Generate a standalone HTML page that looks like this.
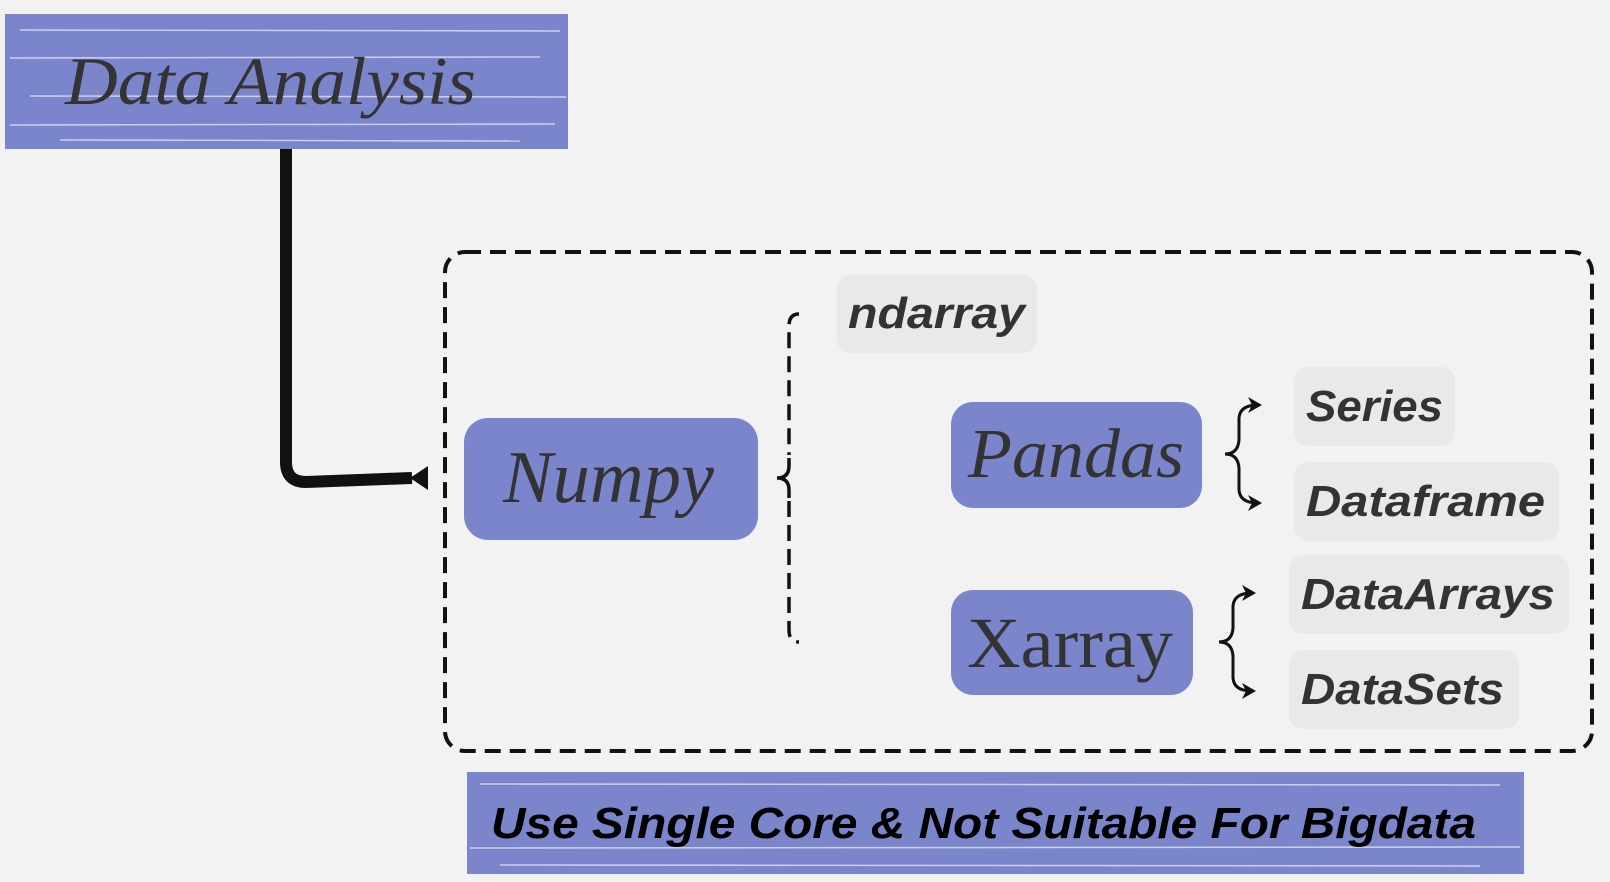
<!DOCTYPE html>
<html><head><meta charset="utf-8"><style>
html,body{margin:0;padding:0;background:#f2f2f2;}
svg{display:block}
.lab{font-family:"Liberation Sans",sans-serif;font-weight:bold;font-style:italic;fill:#333;font-size:44px}
.ser{font-family:"Liberation Serif",serif;fill:#333}
</style></head><body>
<svg width="1610" height="882" viewBox="0 0 1610 882" xmlns="http://www.w3.org/2000/svg">
<rect width="1610" height="882" fill="#f2f2f2"/>
<!-- Data Analysis banner -->
<rect x="5" y="14" width="563" height="135" fill="#7a85cb"/>
<g stroke="#f2f2f2" stroke-width="1.5" opacity="0.7">
<line x1="20" y1="30" x2="560" y2="31"/><line x1="10" y1="58" x2="540" y2="57"/><line x1="30" y1="96" x2="566" y2="97"/><line x1="10" y1="125" x2="555" y2="124"/><line x1="60" y1="140" x2="520" y2="141"/>
</g>
<text x="65" y="104" class="ser" font-style="italic" font-size="68" textLength="411" lengthAdjust="spacingAndGlyphs">Data Analysis</text>
<!-- connector -->
<path d="M286 149 L286 462 Q286 482 306 482 L412 478" stroke="#111" stroke-width="12" fill="none"/>
<polygon points="410,478 428,466 428,490" fill="#111"/>
<!-- dashed box -->
<rect x="445" y="252" width="1147" height="499" rx="20" fill="none" stroke="#111" stroke-width="4" stroke-dasharray="16,9"/>
<!-- Numpy -->
<rect x="464" y="418" width="294" height="122" rx="24" fill="#7a85cb"/>
<text x="503" y="502" class="ser" font-style="italic" font-size="74" textLength="211" lengthAdjust="spacingAndGlyphs">Numpy</text>
<!-- dashed brace -->
<path d="M799 314 Q789 314 789 326 L789 455" stroke="#111" stroke-width="3.5" fill="none" stroke-dasharray="16,8"/>
<path d="M789 501 L789 630 Q789 642 799 642" stroke="#111" stroke-width="3.5" fill="none" stroke-dasharray="16,8"/>
<path d="M789 458 L789 466 Q789 478 777 478 Q789 478 789 490 L789 498" stroke="#111" stroke-width="3.5" fill="none"/>
<!-- ndarray -->
<rect x="837" y="275" width="200" height="78" rx="14" fill="#e9e9e9"/>
<text x="848" y="328" class="lab" textLength="177" lengthAdjust="spacingAndGlyphs">ndarray</text>
<!-- Pandas -->
<rect x="951" y="402" width="251" height="106" rx="22" fill="#7a85cb"/>
<text x="968" y="477" class="ser" font-style="italic" font-size="70" textLength="216" lengthAdjust="spacingAndGlyphs">Pandas</text>
<path d="M1258 405 Q1240 405 1239 418 L1239 440 Q1238 454 1225 454 Q1238 454 1239 468 L1239 490 Q1240 503 1258 503" stroke="#111" stroke-width="3" fill="none"/>
<polygon points="1262,405 1248,397 1252,405 1248,413" fill="#111"/>
<polygon points="1262,503 1248,495 1252,503 1248,511" fill="#111"/>
<rect x="1294" y="367" width="161" height="79" rx="14" fill="#e9e9e9"/>
<text x="1306" y="421" class="lab" textLength="137" lengthAdjust="spacingAndGlyphs">Series</text>
<rect x="1294" y="462" width="265" height="79" rx="14" fill="#e9e9e9"/>
<text x="1306" y="516" class="lab" textLength="239" lengthAdjust="spacingAndGlyphs">Dataframe</text>
<!-- Xarray -->
<rect x="951" y="590" width="242" height="105" rx="22" fill="#7a85cb"/>
<text x="967" y="667" class="ser" font-size="72" textLength="206" lengthAdjust="spacingAndGlyphs">Xarray</text>
<path d="M1252 593 Q1234 593 1233 606 L1233 628 Q1232 642 1219 642 Q1232 642 1233 656 L1233 678 Q1234 691 1252 691" stroke="#111" stroke-width="3" fill="none"/>
<polygon points="1256,593 1242,585 1246,593 1242,601" fill="#111"/>
<polygon points="1256,691 1242,683 1246,691 1242,699" fill="#111"/>
<rect x="1289" y="555" width="280" height="79" rx="14" fill="#e9e9e9"/>
<text x="1301" y="609" class="lab" textLength="254" lengthAdjust="spacingAndGlyphs">DataArrays</text>
<rect x="1289" y="650" width="230" height="79" rx="14" fill="#e9e9e9"/>
<text x="1301" y="704" class="lab" textLength="203" lengthAdjust="spacingAndGlyphs">DataSets</text>
<!-- bottom banner -->
<rect x="467" y="772" width="1057" height="102" fill="#7a85cb"/>
<g stroke="#f2f2f2" stroke-width="1.5" opacity="0.7">
<line x1="480" y1="784" x2="1500" y2="785"/><line x1="470" y1="848" x2="1520" y2="847"/><line x1="500" y1="865" x2="1480" y2="866"/>
</g>
<text x="491" y="838" class="lab" style="fill:#000" textLength="985" lengthAdjust="spacingAndGlyphs">Use Single Core &amp; Not Suitable For Bigdata</text>
</svg>
</body></html>
